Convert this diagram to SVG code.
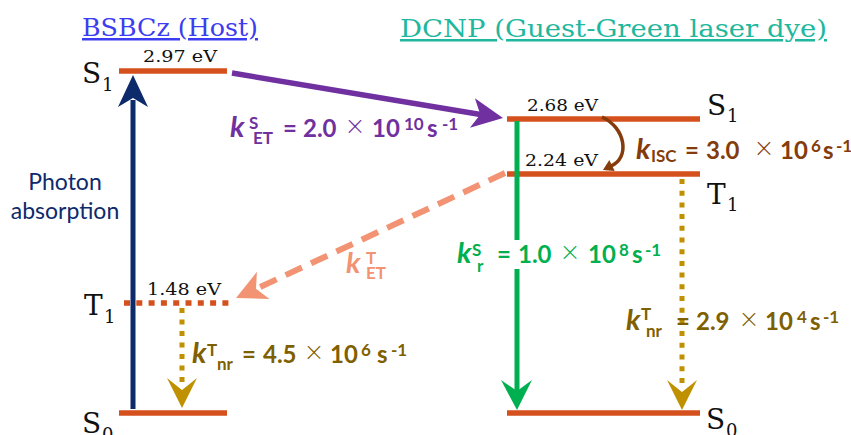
<svg xmlns="http://www.w3.org/2000/svg" width="851" height="435" viewBox="0 0 851 435">
<style>
.lvl{stroke:#d4501d;stroke-width:5.5;fill:none}
.st{font-family:"DejaVu Serif","Liberation Serif",serif;fill:#111}
.st .big{font-size:28px}
.st .sub{font-size:18px}
.ev{font-family:"DejaVu Serif","Liberation Serif",serif;font-size:16px;fill:#111}
.title{font-family:"DejaVu Serif","Liberation Serif",serif;font-size:25px;text-decoration:underline}
.rate{font-family:Lato,"Open Sans","Liberation Sans",sans-serif;font-weight:bold;font-size:24px}
.rate .k{font-style:italic;font-size:29px}
.rate .sm{font-size:17px}
.rate .x{font-weight:300;font-size:31px}
</style>

<!-- Titles -->
<text id="title-host" class="title" x="82" y="36" fill="#3c3cf0" textLength="176" lengthAdjust="spacingAndGlyphs">BSBCz (Host)</text>
<text id="title-guest" class="title" x="400" y="37" fill="#1fb89e" textLength="427" lengthAdjust="spacingAndGlyphs">DCNP (Guest-Green laser dye)</text>

<!-- Host levels -->
<g id="host-S1">
  <line class="lvl" x1="119" y1="71" x2="227" y2="71"/>
  <text class="st"><tspan class="big" x="82" y="83">S</tspan><tspan class="sub" x="102" y="91">1</tspan></text>
  <text class="ev" x="143" y="62" textLength="74" lengthAdjust="spacingAndGlyphs">2.97 eV</text>
</g>
<g id="host-T1">
  <line class="lvl" x1="124" y1="303" x2="230" y2="303" stroke-dasharray="6 6.3"/>
  <text class="st"><tspan class="big" x="84" y="315">T</tspan><tspan class="sub" x="104" y="323">1</tspan></text>
  <text class="ev" x="147" y="295" textLength="74" lengthAdjust="spacingAndGlyphs">1.48 eV</text>
</g>
<g id="host-S0">
  <line class="lvl" x1="119" y1="413" x2="227" y2="413"/>
  <text class="st"><tspan class="big" x="82" y="433">S</tspan><tspan class="sub" x="102" y="441">0</tspan></text>
</g>

<!-- Guest levels -->
<g id="guest-S1">
  <line class="lvl" x1="507" y1="119" x2="700" y2="119"/>
  <text class="st"><tspan class="big" x="707" y="115">S</tspan><tspan class="sub" x="727" y="122">1</tspan></text>
  <text class="ev" x="527" y="111" textLength="71" lengthAdjust="spacingAndGlyphs">2.68 eV</text>
</g>
<g id="guest-T1">
  <line class="lvl" x1="507" y1="174" x2="700" y2="174"/>
  <text class="st"><tspan class="big" x="707" y="204">T</tspan><tspan class="sub" x="727" y="211">1</tspan></text>
  <text class="ev" x="525" y="166" textLength="73" lengthAdjust="spacingAndGlyphs">2.24 eV</text>
</g>
<g id="guest-S0">
  <line class="lvl" x1="507" y1="413" x2="700" y2="413"/>
  <text class="st"><tspan class="big" x="706" y="429">S</tspan><tspan class="sub" x="726" y="437">0</tspan></text>
</g>

<!-- Connectors -->
<g id="connectors">
  <!-- photon absorption -->
  <line x1="133" y1="409" x2="133" y2="100" stroke="#0d2a6b" stroke-width="5"/>
  <polygon points="133,75 148,107 133,98 118,107" fill="#0d2a6b"/>
  <!-- singlet energy transfer -->
  <line x1="232" y1="73" x2="482" y2="114.7" stroke="#7030a0" stroke-width="5.5"/>
  <polygon points="503,118 474.9,98.2 480.3,114.4 469.9,127.8" fill="#7030a0"/>
  <!-- triplet energy transfer -->
  <line x1="505" y1="173" x2="258" y2="288" stroke="#f29373" stroke-width="6" stroke-dasharray="18 10"/>
  <polygon points="236,298 256.9,271.8 256,288.7 269.5,299" fill="#f29373"/>
  <!-- ISC -->
  <path d="M602 117 C626 128 630 158 611 166" fill="none" stroke="#843c0c" stroke-width="3.5"/>
  <polygon points="603,170 609.3,160.1 612,165.5 614.7,170.9" fill="#843c0c"/>
  <!-- radiative -->
  <line x1="517" y1="121" x2="517" y2="392" stroke="#00b050" stroke-width="5"/>
  <polygon points="517,410 532,380 517,391 501,380" fill="#00b050"/>
  <!-- nonradiative host -->
  <line x1="182" y1="308" x2="182" y2="385" stroke="#bf9000" stroke-width="5" stroke-dasharray="5 6.5"/>
  <polygon points="182,408 197,378 182,390 167,378" fill="#bf9000"/>
  <!-- nonradiative guest -->
  <line x1="682" y1="179" x2="682" y2="386" stroke="#bf9000" stroke-width="5" stroke-dasharray="5 6.7"/>
  <polygon points="682,410 697,380 682,392 667,380" fill="#bf9000"/>
</g>

<!-- Labels -->
<g id="label-photon">
  <text font-family="Lato,'Open Sans','Liberation Sans',sans-serif" font-size="23" fill="#0d2a6b" text-anchor="middle"><tspan x="65" y="190">Photon</tspan><tspan x="65" y="219">absorption</tspan></text>
</g>

<g id="label-kSET">
  <text class="rate" fill="#7030a0"><tspan class="k" x="230" y="137">k</tspan><tspan class="sm" x="249" y="129">S</tspan><tspan class="sm" x="253" y="144">ET</tspan><tspan x="283" y="137">=</tspan><tspan x="303" y="137">2.0</tspan><tspan class="x" x="346" y="137">×</tspan><tspan x="372" y="137">10</tspan><tspan class="sm" x="404" y="130">10</tspan><tspan x="427" y="137">s</tspan><tspan class="sm" x="442" y="130">-1</tspan></text>
</g>

<g id="label-kISC">
  <text class="rate" fill="#843c0c"><tspan class="k" x="636" y="159">k</tspan><tspan class="sm" x="651" y="162">ISC</tspan><tspan x="685" y="159">=</tspan><tspan x="706" y="159">3.0</tspan><tspan class="x" x="755" y="159">×</tspan><tspan x="780" y="159">10</tspan><tspan class="sm" x="811" y="152">6</tspan><tspan x="823" y="159">s</tspan><tspan class="sm" x="836" y="152">-1</tspan></text>
</g>

<g id="label-kTET">
  <text class="rate" fill="#f29373"><tspan class="k" x="346" y="273">k</tspan><tspan class="sm" x="366" y="264">T</tspan><tspan class="sm" x="366" y="279">ET</tspan></text>
</g>

<g id="label-kSr">
  <rect x="455" y="240" width="210" height="29" fill="#ffffff"/>
  <text class="rate" fill="#00b050"><tspan class="k" x="457" y="263">k</tspan><tspan class="sm" x="472" y="256">S</tspan><tspan class="sm" x="477" y="272">r</tspan><tspan x="497" y="263">=</tspan><tspan x="518" y="263">1.0</tspan><tspan class="x" x="561" y="263">×</tspan><tspan x="588" y="263">10</tspan><tspan class="sm" x="619" y="256">8</tspan><tspan x="632" y="263">s</tspan><tspan class="sm" x="645" y="256">-1</tspan></text>
</g>

<g id="label-kTnr-guest">
  <text class="rate" fill="#7f6000"><tspan class="k" x="626" y="330">k</tspan><tspan class="sm" x="641" y="320">T</tspan><tspan class="sm" x="646" y="337">nr</tspan><tspan x="676" y="330">=</tspan><tspan x="696" y="330">2.9</tspan><tspan class="x" x="740" y="330">×</tspan><tspan x="765" y="330">10</tspan><tspan class="sm" x="797" y="323">4</tspan><tspan x="810" y="330">s</tspan><tspan class="sm" x="823" y="323">-1</tspan></text>
</g>

<g id="label-kTnr-host">
  <text class="rate" fill="#7f6000"><tspan class="k" x="192" y="363">k</tspan><tspan class="sm" x="207" y="356">T</tspan><tspan class="sm" x="217" y="370">nr</tspan><tspan x="242" y="363">=</tspan><tspan x="263" y="363">4.5</tspan><tspan class="x" x="305" y="363">×</tspan><tspan x="330" y="363">10</tspan><tspan class="sm" x="361" y="356">6</tspan><tspan x="377" y="363">s</tspan><tspan class="sm" x="391" y="356">-1</tspan></text>
</g>
</svg>
